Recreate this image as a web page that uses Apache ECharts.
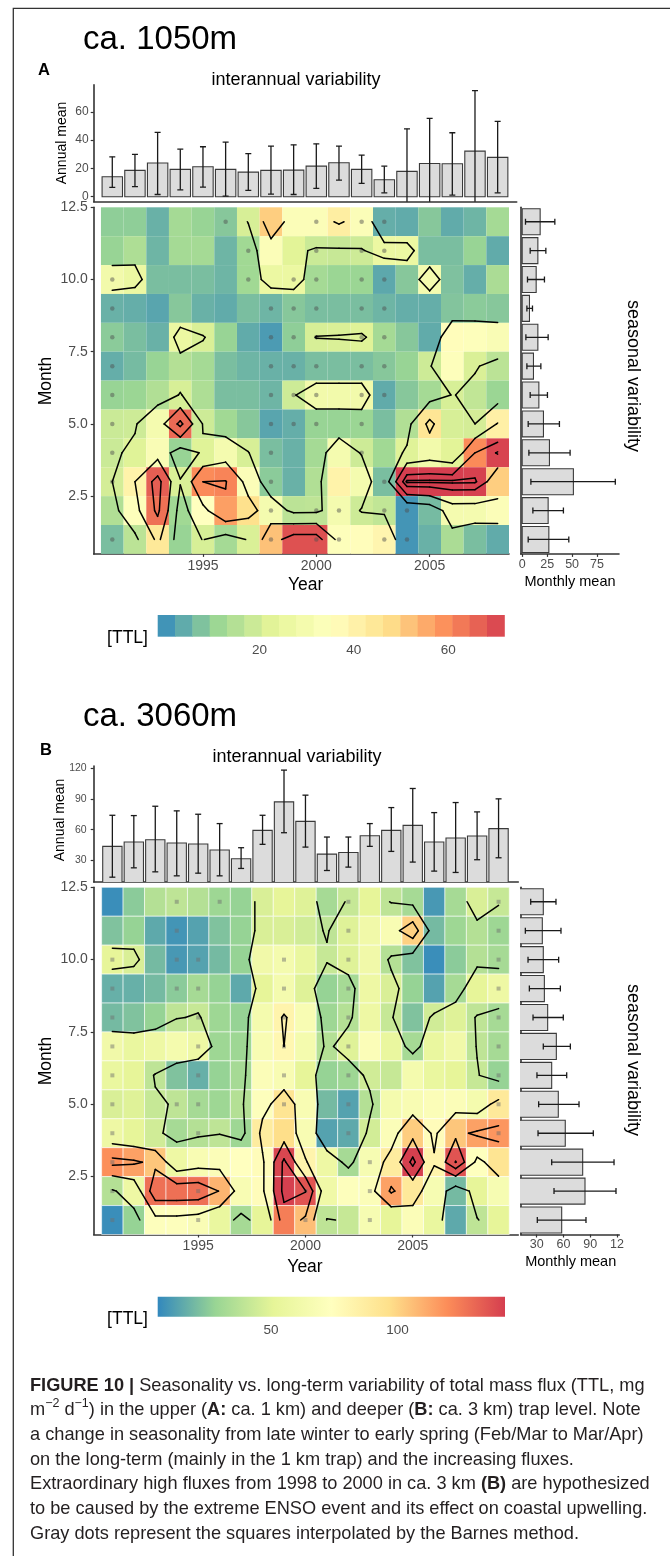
<!DOCTYPE html>
<html>
<head>
<meta charset="utf-8">
<title>TTL seasonality vs. long-term variability</title>
<script src="https://cdn.jsdelivr.net/npm/echarts@6.0.0/dist/echarts.min.js"></script>
<style>
  html, body { margin: 0; padding: 0; background: #fff; }
  #container { width: 670px; height: 1556px; }
</style>
</head>
<body>
<div id="container"></div>
<script>
// ---------------- data ----------------
// panel A: ca. 1050m trap
const yearsA = [1991, 1992, 1993, 1994, 1995, 1996, 1997, 1998, 1999, 2000, 2001, 2002, 2003, 2004, 2005, 2006, 2007, 2008];
const annualMeanA = [14.1, 18.6, 23.8, 19.3, 21.2, 19.3, 17.4, 18.6, 18.8, 21.6, 24.0, 19.3, 12.0, 17.9, 23.5, 23.3, 32.2, 27.8];
const annualLowA = [6.6, 7.1, 1.6, 4.9, 6.8, 0.5, 4.5, 1.9, 1.6, 5.9, 11.8, 9.4, 2.8, -12, -8, 1.2, -10, 2.8];
const annualHighA = [28.2, 29.9, 45.4, 33.6, 35.3, 38.6, 30.4, 35.8, 36.7, 37.4, 35.8, 29.4, 21.6, 48.0, 55.3, 45.2, 75.0, 53.2];
const monthsA = [1, 2, 3, 4, 5, 6, 7, 8, 9, 10, 11, 12];
const monthlyMeanA = [26.7, 26.0, 51.3, 27.3, 21.3, 16.7, 11.3, 15.7, 7.3, 14.0, 15.7, 18.0];
const monthlyLowA = [6.0, 10.7, 8.7, 6.7, 6.0, 8.0, 4.7, 3.7, 4.7, 5.3, 8.0, 3.3];
const monthlyHighA = [46.7, 41.3, 93.3, 48.0, 37.3, 25.3, 18.7, 26.0, 10.3, 22.3, 23.7, 32.7];
// heatmap rows: December (top) down to January, one value per year
const ttlA = [
  [9.5, 9.5, 5, 12.5, 10.5, 8.5, 20.5, 50, 33, 33, 42, 33, 4.5, 4, 8.5, 4, 5.5, 12.5],
  [10.5, 14, 5.5, 12.5, 12.5, 5.5, 12, 33, 22.5, 18.5, 18, 19, 26, 26, 7, 7, 10.5, 4],
  [29, 26, 7, 7, 7, 5.5, 12, 26, 26, 12.5, 11, 11, 3.5, 8.5, 30, 7.5, 4.5, 13.5],
  [5, 4.5, 3, 8.5, 5, 4, 7, 5.5, 8.5, 7, 7, 7, 5.5, 4.5, 4.5, 8, 9, 8.5],
  [9, 7, 5, 26, 21, 10.5, 4, 1.5, 9.5, 20.5, 21, 22, 12.5, 8.5, 4, 36, 34, 32],
  [4.5, 6.5, 10.5, 15, 12.5, 7, 5.5, 5, 5, 7, 7, 7, 8.5, 10.5, 19, 34, 21, 16],
  [10.5, 11, 14.5, 20.5, 14, 7, 7, 5.5, 19, 29, 29, 29, 4, 8.5, 12.5, 20.5, 17, 11],
  [18.5, 19, 30, 65, 19, 12, 8.5, 3, 4.5, 10.5, 10.5, 11, 7, 14.5, 45, 20.5, 20, 41],
  [18.5, 22, 32, 10.5, 22, 30, 20.5, 7, 5, 12.5, 30, 19, 12, 22, 29, 22.5, 60, 71],
  [20, 40, 67, 21, 60, 61, 33, 9, 5, 14.5, 40, 30, 7, 72, 72, 72, 71.5, 50],
  [14.5, 34, 64, 12, 35, 57, 47, 30, 16, 16.5, 30, 19, 17, 0.5, 6.5, 30, 30, 33],
  [7, 16, 44, 10.5, 20.5, 12.5, 21, 52, 69, 69, 34, 36, 39, 0.5, 5, 13.5, 7, 4],
];
// years with a gray (Barnes interpolated) dot, December down to January
const dotYearsA = [
  [1996, 2000, 2002, 2003],
  [1997, 2000, 2002, 2003],
  [1991, 1997, 1999, 2000, 2002, 2003],
  [1991, 1998, 1999, 2000, 2002, 2003],
  [1991, 1998, 1999, 2000, 2002, 2003],
  [1991, 1998, 1999, 2000, 2002, 2003],
  [1991, 1998, 1999, 2000, 2002, 2003],
  [1991, 1998, 1999, 2000, 2002],
  [1991, 1998, 2002],
  [1991, 1998, 2003, 2004],
  [1998, 2000, 2001, 2003, 2004],
  [1991, 1998, 2000, 2001, 2003, 2004],
];
const contourLevelsA = [20, 40, 60, 70];
const ttlRangeA = [-1.6, 71.9];
const legendTicksA = [20, 40, 60];

// panel B: ca. 3060m trap
const yearsB = [1991, 1992, 1993, 1994, 1995, 1996, 1997, 1998, 1999, 2000, 2001, 2002, 2003, 2004, 2005, 2006, 2007, 2008, 2009];
const annualMeanB = [43.7, 47.9, 50.2, 47.0, 46.0, 40.1, 31.6, 59.3, 87.1, 68.1, 36.2, 37.8, 54.1, 59.3, 64.2, 47.9, 51.8, 53.8, 61.0];
const annualLowB = [13.7, 22.8, 18.9, 15.0, 17.6, 15.0, 22.2, 45.7, 57.0, 43.0, 20.2, 23.5, 43.7, 38.8, 28.4, 19.6, 18.3, 30.7, 32.6];
const annualHighB = [74.0, 73.7, 82.8, 78.3, 75.0, 65.9, 42.4, 74.0, 118.0, 93.6, 52.8, 52.8, 65.9, 81.5, 100.1, 76.6, 86.4, 77.3, 90.0];
const monthsB = [1, 2, 3, 4, 5, 6, 7, 8, 9, 10, 11, 12];
const monthlyMeanB = [58.0, 84.1, 81.5, 62.0, 54.2, 46.8, 52.0, 42.3, 38.6, 37.4, 36.3, 37.4];
const monthlyLowB = [30.7, 49.4, 46.8, 31.5, 32.2, 30.3, 37.4, 25.9, 21.8, 20.3, 17.3, 23.3];
const monthlyHighB = [85.2, 118.8, 116.6, 93.4, 77.4, 63.6, 67.7, 59.8, 56.5, 54.6, 57.2, 51.6];
const ttlB = [
  [7, 25, 36, 39, 36, 29.5, 27.5, 47, 51.5, 49, 32, 41.5, 51.5, 39, 32, 10, 32, 47, 41.5],
  [22.5, 27.5, 15, 9, 13, 22.5, 27.5, 47, 47, 44.5, 39, 49, 61, 67, 101, 20, 29.5, 36, 29.5],
  [51.5, 47, 20, 10, 13, 20, 27.5, 61, 64, 55, 41.5, 49, 61, 36, 22.5, 7, 25, 36, 32],
  [17, 17, 20, 25, 32, 27.5, 15, 51.5, 64, 49, 27.5, 32, 58, 47, 27.5, 13, 32, 51.5, 58],
  [20, 22.5, 27.5, 39, 41.5, 29.5, 27.5, 64, 82, 67, 29.5, 36, 58, 41.5, 22.5, 44.5, 49, 39, 32],
  [61, 55, 58, 64, 58, 29.5, 29.5, 67, 80, 64, 36, 49, 70, 55, 32, 55, 61, 39, 32],
  [55, 51.5, 39, 22.5, 17, 27.5, 32, 70, 67, 51.5, 27.5, 29.5, 44.5, 41.5, 64, 55, 51.5, 41.5, 27.5],
  [47, 49, 41.5, 39, 32, 29.5, 36, 72, 93, 67, 20, 13, 36, 64, 67, 70, 70, 64, 90],
  [58, 51.5, 44.5, 32, 36, 39, 29.5, 88, 97, 67, 13, 15, 45, 70, 102, 76, 104, 114, 117],
  [119, 114, 104, 58, 67, 70, 74, 76, 140, 82, 58, 32, 66, 88, 142, 82, 136, 73, 93],
  [36, 58, 128, 128, 128, 109, 67, 76, 142, 136, 60, 72, 70, 114, 90, 66, 20, 51.5, 66],
  [7, 27.5, 72, 72, 68, 55, 32, 51.5, 124, 106, 39, 41.5, 66, 51.5, 70, 55, 15, 39, 51.5],
];
const dotYearsB = [
  [1994, 1996, 2002, 2009],
  [1994, 2002, 2009],
  [1991, 1994, 1995, 1999, 2002, 2009],
  [1991, 1994, 1995, 1999, 2002, 2009],
  [1991, 1995, 1999, 2002, 2009],
  [1991, 1995, 1999, 2002, 2009],
  [1991, 1995, 1999, 2002, 2009],
  [1991, 1994, 1995, 1999, 2002, 2009],
  [1991, 1995, 2002, 2009],
  [1991, 2003],
  [1991, 1995, 2000, 2003],
  [1991, 1995, 2000, 2003],
];
const contourLevelsB = [40, 80, 110, 135];
const ttlRangeB = [5.2, 142.5];
const legendTicksB = [50, 100];

// ---------------- helpers ----------------
const FONT = 'Liberation Sans';
const AXIS_COL = '#333';
const LABEL_COL = '#4d4d4d';
const spectral = ['#3288bd', '#99d594', '#e6f598', '#ffffbf', '#fee08b', '#fc8d59', '#d53e4f'];

function hexToRgb(h) {
  return [1, 3, 5].map((k) => parseInt(h.substr(k, 2), 16));
}
function ttlColor(v, range) {
  let t = (v - range[0]) / (range[1] - range[0]);
  t = Math.max(0, Math.min(1, t));
  const pos = t * (spectral.length - 1);
  const k = Math.min(Math.floor(pos), spectral.length - 2);
  const f = pos - k;
  const a = hexToRgb(spectral[k]);
  const b = hexToRgb(spectral[k + 1]);
  const c = a.map((x, i) => Math.round(x + (b[i] - x) * f));
  return `rgb(${c[0]},${c[1]},${c[2]})`;
}

function cellData(years, rows) {
  const out = [];
  rows.forEach((row, r) => {
    row.forEach((v, i) => out.push([years[i], 12 - r, v]));
  });
  return out;
}
function dotData(dotRows) {
  const out = [];
  dotRows.forEach((row, r) => row.forEach((y) => out.push([y, 12 - r])));
  return out;
}

// marching squares on the cell centres
function contourSegments(years, rows, levels) {
  const z = rows.slice().reverse(); // z[0] = January
  const segs = [];
  levels.forEach((lv) => {
    for (let j = 0; j < z.length - 1; j++) {
      for (let i = 0; i < years.length - 1; i++) {
        const a = z[j][i], b = z[j][i + 1], c = z[j + 1][i + 1], d = z[j + 1][i];
        const A = [years[i], j + 1], B = [years[i + 1], j + 1], C = [years[i + 1], j + 2], D = [years[i], j + 2];
        const up = (v) => v >= lv;
        const cut = (p, q, vp, vq) => {
          const t = (lv - vp) / (vq - vp);
          return [p[0] + t * (q[0] - p[0]), p[1] + t * (q[1] - p[1])];
        };
        const bottom = up(a) !== up(b) ? cut(A, B, a, b) : null;
        const right = up(b) !== up(c) ? cut(B, C, b, c) : null;
        const top = up(c) !== up(d) ? cut(C, D, c, d) : null;
        const left = up(d) !== up(a) ? cut(D, A, d, a) : null;
        const e = [bottom, right, top, left].filter((p) => p);
        if (e.length === 2) {
          segs.push([e[0][0], e[0][1], e[1][0], e[1][1]]);
        } else if (e.length === 4) {
          const mid = (a + b + c + d) / 4;
          if (up(mid) === up(a)) {
            segs.push([bottom[0], bottom[1], right[0], right[1]]);
            segs.push([top[0], top[1], left[0], left[1]]);
          } else {
            segs.push([left[0], left[1], bottom[0], bottom[1]]);
            segs.push([right[0], right[1], top[0], top[1]]);
          }
        }
      }
    }
  });
  return segs;
}

function makeAxis(o) {
  const hasTicks = !!o.ticks;
  return {
    type: 'value',
    gridIndex: o.grid,
    min: o.min,
    max: o.max,
    position: o.position,
    splitLine: {show: false},
    axisLine: {show: o.line !== false, onZero: false, lineStyle: {color: AXIS_COL, width: 1.6}},
    axisTick: hasTicks
      ? {show: true, inside: !!o.inside, length: o.tickLen || 3, customValues: o.ticks,
         lineStyle: {color: o.tickColor || AXIS_COL, width: 1.2}}
      : {show: false},
    axisLabel: hasTicks
      ? {show: true, customValues: o.ticks, formatter: o.fmt || ((v) => String(v)),
         color: LABEL_COL, fontSize: o.fontSize || 14, fontFamily: FONT, margin: o.margin || 5}
      : {show: false},
  };
}

const BAR_FILL = '#dcdcdc';
const BAR_EDGE = '#3a3a3a';
const ERR_STYLE = {stroke: '#1a1a1a', lineWidth: 1.3};

function barV(params, api) {
  const x = api.value(0);
  const p0 = api.coord([x - 0.45, api.value(1)]);
  const p1 = api.coord([x + 0.45, 0]);
  return {type: 'rect', shape: {x: p0[0], y: p0[1], width: p1[0] - p0[0], height: p1[1] - p0[1]},
    style: {fill: BAR_FILL, stroke: BAR_EDGE, lineWidth: 1.1}};
}
function errV(params, api) {
  const x = api.value(0);
  const lo = api.coord([x, api.value(1)]);
  const hi = api.coord([x, api.value(2)]);
  return {type: 'group', children: [
    {type: 'line', shape: {x1: lo[0], y1: lo[1], x2: hi[0], y2: hi[1]}, style: ERR_STYLE},
    {type: 'line', shape: {x1: lo[0] - 3, y1: lo[1], x2: lo[0] + 3, y2: lo[1]}, style: ERR_STYLE},
    {type: 'line', shape: {x1: hi[0] - 3, y1: hi[1], x2: hi[0] + 3, y2: hi[1]}, style: ERR_STYLE},
  ]};
}
function barH(params, api) {
  const m = api.value(1);
  const p0 = api.coord([0, m + 0.45]);
  const p1 = api.coord([api.value(0), m - 0.45]);
  return {type: 'rect', shape: {x: p0[0], y: p0[1], width: p1[0] - p0[0], height: p1[1] - p0[1]},
    style: {fill: BAR_FILL, stroke: BAR_EDGE, lineWidth: 1.1}};
}
function errH(params, api) {
  const m = api.value(2);
  const lo = api.coord([api.value(0), m]);
  const hi = api.coord([api.value(1), m]);
  return {type: 'group', children: [
    {type: 'line', shape: {x1: lo[0], y1: lo[1], x2: hi[0], y2: hi[1]}, style: ERR_STYLE},
    {type: 'line', shape: {x1: lo[0], y1: lo[1] - 3, x2: lo[0], y2: lo[1] + 3}, style: ERR_STYLE},
    {type: 'line', shape: {x1: hi[0], y1: hi[1] - 3, x2: hi[0], y2: hi[1] + 3}, style: ERR_STYLE},
  ]};
}
function cellRenderer(range, edge) {
  return (params, api) => {
    const x = api.value(0), y = api.value(1);
    const p0 = api.coord([x - 0.5, y + 0.5]);
    const p1 = api.coord([x + 0.5, y - 0.5]);
    return {type: 'rect', shape: {x: p0[0], y: p0[1], width: p1[0] - p0[0], height: p1[1] - p0[1]},
      style: {fill: ttlColor(api.value(2), range), stroke: edge, lineWidth: edge ? 0.8 : 0}};
  };
}
function segRenderer(params, api) {
  const p = api.coord([api.value(0), api.value(1)]);
  const q = api.coord([api.value(2), api.value(3)]);
  return {type: 'line', shape: {x1: p[0], y1: p[1], x2: q[0], y2: q[1]},
    style: {stroke: '#000', lineWidth: 1.5, lineCap: 'round'}};
}
function legendBins(range, n) {
  const out = [];
  const w = (range[1] - range[0]) / n;
  for (let k = 0; k < n; k++) out.push([range[0] + k * w, range[0] + (k + 1) * w]);
  return out;
}
function legendRenderer(range, smooth) {
  return (params, api) => {
    const p0 = api.coord([api.value(0), 1]);
    const p1 = api.coord([api.value(1), 0]);
    const fill = smooth
      ? {type: 'linear', x: 0, y: 0, x2: 1, y2: 0,
         colorStops: spectral.map((c, k) => ({offset: k / (spectral.length - 1), color: c}))}
      : ttlColor((api.value(0) + api.value(1)) / 2, range);
    return {type: 'rect', shape: {x: p0[0], y: p0[1], width: p1[0] - p0[0] + (smooth ? 0 : 0.5), height: p1[1] - p0[1]},
      style: {fill: fill}};
  };
}

// ---------------- grids and axes ----------------
const grids = [
  {left: 93.7, top: 84.9, width: 423, height: 116.8},     // 0 A annual
  {left: 93.7, top: 207.3, width: 415.3, height: 346.6},  // 1 A heatmap
  {left: 520.7, top: 207.3, width: 98.3, height: 346.6},  // 2 A monthly
  {left: 157.7, top: 615, width: 346.6, height: 21.7},    // 3 A colour bar
  {left: 93.7, top: 766, width: 424.6, height: 116},      // 4 B annual
  {left: 93.7, top: 887.3, width: 424.6, height: 347.2},  // 5 B heatmap
  {left: 520.7, top: 887.3, width: 98.6, height: 347.2},  // 6 B monthly
  {left: 157.7, top: 1296.7, width: 347.3, height: 20},   // 7 B colour bar
];
const monthTicks = [2.5, 5, 7.5, 10, 12.5];
const yearTicks = [1995, 2000, 2005];

const xAxes = [
  makeAxis({grid: 0, min: 1990.18, max: 2008.84}),
  makeAxis({grid: 1, min: 1990.18, max: 2008.5, ticks: yearTicks, fontSize: 14, margin: 5}),
  makeAxis({grid: 2, min: -1.5, max: 97, ticks: [0, 25, 50, 75], fontSize: 12.5, margin: 4}),
  makeAxis({grid: 3, min: ttlRangeA[0], max: ttlRangeA[1], line: false, ticks: legendTicksA, inside: true,
    tickLen: 4, tickColor: '#fff', fontSize: 13.5, margin: 7}),
  makeAxis({grid: 4, min: 1990.13, max: 2009.92}),
  makeAxis({grid: 5, min: 1990.13, max: 2009.92, ticks: yearTicks, fontSize: 14, margin: 5}),
  makeAxis({grid: 6, min: 12.1, max: 122.5, ticks: [30, 60, 90, 120], fontSize: 12.5, margin: 4,
    fmt: (v) => (v === 120 ? '12' : String(v))}),
  makeAxis({grid: 7, min: ttlRangeB[0], max: ttlRangeB[1], line: false, ticks: legendTicksB, inside: true,
    tickLen: 4, tickColor: '#fff', fontSize: 13.5, margin: 7}),
];
const yAxes = [
  makeAxis({grid: 0, min: -3.5, max: 79, ticks: [0, 20, 40, 60], fontSize: 12, margin: 5}),
  makeAxis({grid: 1, min: 0.5, max: 12.5, ticks: monthTicks, fmt: (v) => v.toFixed(1), fontSize: 14, margin: 6}),
  makeAxis({grid: 2, min: 0.5, max: 12.5}),
  makeAxis({grid: 3, min: 0, max: 1, line: false}),
  makeAxis({grid: 4, min: 9, max: 122, ticks: [30, 60, 90, 120], fontSize: 10.5, margin: 7}),
  makeAxis({grid: 5, min: 0.5, max: 12.5, ticks: monthTicks, fmt: (v) => v.toFixed(1), fontSize: 14, margin: 6}),
  makeAxis({grid: 6, min: 0.5, max: 12.5}),
  makeAxis({grid: 7, min: 0, max: 1, line: false}),
];

// ---------------- series ----------------
function panelSeries(base, p) {
  return [
    {type: 'custom', xAxisIndex: base, yAxisIndex: base, clip: true, renderItem: barV,
      encode: {x: 0, y: 1}, data: p.years.map((y, i) => [y, p.annualMean[i]])},
    {type: 'custom', xAxisIndex: base, yAxisIndex: base, clip: true, renderItem: errV,
      encode: {x: 0, y: [1, 2]}, data: p.years.map((y, i) => [y, p.annualLow[i], p.annualHigh[i]])},
    {type: 'custom', xAxisIndex: base + 1, yAxisIndex: base + 1, renderItem: cellRenderer(p.range, p.edge),
      encode: {x: 0, y: 1}, data: cellData(p.years, p.ttl)},
    {type: 'scatter', xAxisIndex: base + 1, yAxisIndex: base + 1, symbol: p.dotSymbol, symbolSize: p.dotSize,
      itemStyle: {color: p.dotColor}, data: dotData(p.dots), z: 3},
    {type: 'custom', xAxisIndex: base + 1, yAxisIndex: base + 1, renderItem: segRenderer, z: 4,
      encode: {x: [0, 2], y: [1, 3]}, data: contourSegments(p.years, p.ttl, p.levels)},
    {type: 'custom', xAxisIndex: base + 2, yAxisIndex: base + 2, clip: true, renderItem: barH,
      encode: {x: 0, y: 1}, data: p.months.map((m, i) => [p.monthlyMean[i], m])},
    {type: 'custom', xAxisIndex: base + 2, yAxisIndex: base + 2, clip: true, renderItem: errH,
      encode: {x: [0, 1], y: 2}, data: p.months.map((m, i) => [p.monthlyLow[i], p.monthlyHigh[i], m])},
    {type: 'custom', xAxisIndex: base + 3, yAxisIndex: base + 3, renderItem: legendRenderer(p.range, p.smooth),
      encode: {x: [0, 1]}, data: p.smooth ? [[p.range[0], p.range[1]]] : legendBins(p.range, 20)},
  ];
}

const series = [
  ...panelSeries(0, {
    years: yearsA, annualMean: annualMeanA, annualLow: annualLowA, annualHigh: annualHighA,
    months: monthsA, monthlyMean: monthlyMeanA, monthlyLow: monthlyLowA, monthlyHigh: monthlyHighA,
    ttl: ttlA, dots: dotYearsA, levels: contourLevelsA, range: ttlRangeA, edge: null, smooth: false,
    dotSymbol: 'circle', dotSize: 4.5, dotColor: 'rgba(80,80,80,0.6)',
  }),
  ...panelSeries(4, {
    years: yearsB, annualMean: annualMeanB, annualLow: annualLowB, annualHigh: annualHighB,
    months: monthsB, monthlyMean: monthlyMeanB, monthlyLow: monthlyLowB, monthlyHigh: monthlyHighB,
    ttl: ttlB, dots: dotYearsB, levels: contourLevelsB, range: ttlRangeB, edge: 'rgba(255,255,255,0.7)', smooth: true,
    dotSymbol: 'rect', dotSize: 4, dotColor: 'rgba(110,110,110,0.6)',
  }),
];

// ---------------- text, frame and caption ----------------
function label(text, x, y, size, opts = {}) {
  const font = `${opts.bold ? 'bold ' : ''}${size}px "${FONT}"`;
  const align = opts.align || 'center';
  return {type: 'text', x: x, y: y, rotation: opts.rot || 0, silent: true,
    style: {text: text, font: font, fill: opts.color || '#000', align: align, textAlign: align,
      verticalAlign: 'middle', textVerticalAlign: 'middle'}};
}

const measureCtx = document.createElement('canvas').getContext('2d');
const CAP_SIZE = 18.2;
const CAP_COL = '#231f20';
function captionLine(pieces, x, yMid) {
  const out = [];
  let cx = x;
  pieces.forEach((pc) => {
    const size = pc.sup ? 12.5 : CAP_SIZE;
    const font = `${pc.bold ? 'bold ' : ''}${size}px "${FONT}"`;
    out.push({type: 'text', x: cx, y: pc.sup ? yMid - 6.5 : yMid, silent: true,
      style: {text: pc.t, font: font, fill: CAP_COL, align: 'left', textAlign: 'left',
        verticalAlign: 'middle', textVerticalAlign: 'middle'}});
    measureCtx.font = font;
    cx += measureCtx.measureText(pc.t).width;
  });
  return out;
}
const captionLines = [
  [{t: 'FIGURE 10 | ', bold: true}, {t: 'Seasonality vs. long-term variability of total mass flux (TTL, mg'}],
  [{t: 'm'}, {t: '−2', sup: true}, {t: ' d'}, {t: '−1', sup: true}, {t: ') in the upper ('}, {t: 'A:', bold: true},
    {t: ' ca. 1 km) and deeper ('}, {t: 'B:', bold: true}, {t: ' ca. 3 km) trap level. Note'}],
  [{t: 'a change in seasonality from late winter to early spring (Feb/Mar to Mar/Apr)'}],
  [{t: 'on the long-term (mainly in the 1 km trap) and the increasing fluxes.'}],
  [{t: 'Extraordinary high fluxes from 1998 to 2000 in ca. 3 km '}, {t: '(B)', bold: true}, {t: ' are hypothesized'}],
  [{t: 'to be caused by the extreme ENSO event and its effect on coastal upwelling.'}],
  [{t: 'Gray dots represent the squares interpolated by the Barnes method.'}],
];
const captionBaselines = [1392, 1416.7, 1441.7, 1466, 1490.7, 1515, 1540];

const graphics = [
  {type: 'polyline', silent: true, shape: {points: [[13.3, 1556], [13.3, 8.3], [670, 8.3]]},
    style: {stroke: '#333', fill: null, lineWidth: 1.3}},
  // panel A
  label('ca. 1050m', 83, 40, 33, {align: 'left'}),
  label('A', 38, 70.5, 16.5, {align: 'left', bold: true}),
  label('interannual variability', 296, 80, 18),
  label('Annual mean', 62, 143, 14, {rot: Math.PI / 2}),
  label('Month', 45.7, 381, 17.5, {rot: Math.PI / 2}),
  label('Year', 305.7, 585, 17.5),
  label('Monthly mean', 570, 581.7, 14.5),
  label('seasonal variability', 632.5, 376, 18, {rot: -Math.PI / 2}),
  label('[TTL]', 127.5, 638.3, 17.5),
  // panel B
  label('ca. 3060m', 83, 717, 33, {align: 'left'}),
  label('B', 40, 750, 16.5, {align: 'left', bold: true}),
  label('interannual variability', 297, 757, 18),
  label('Annual mean', 60, 820, 14, {rot: Math.PI / 2}),
  label('Month', 45.7, 1061, 17.5, {rot: Math.PI / 2}),
  label('Year', 305, 1266.7, 17.5),
  label('Monthly mean', 570.7, 1261.7, 14.5),
  label('seasonal variability', 632.5, 1060, 18, {rot: -Math.PI / 2}),
  label('[TTL]', 127.5, 1319, 17.5),
];
captionLines.forEach((pieces, k) => {
  graphics.push(...captionLine(pieces, 30, captionBaselines[k] - CAP_SIZE * 0.35));
});

let chart = echarts.init(document.getElementById('container'), null, {renderer: 'canvas'});
let option = {
  animation: false,
  backgroundColor: '#fff',
  grid: grids,
  xAxis: xAxes,
  yAxis: yAxes,
  series: series,
  graphic: {elements: graphics},
};
chart.setOption(option);
</script>
</body>
</html>
